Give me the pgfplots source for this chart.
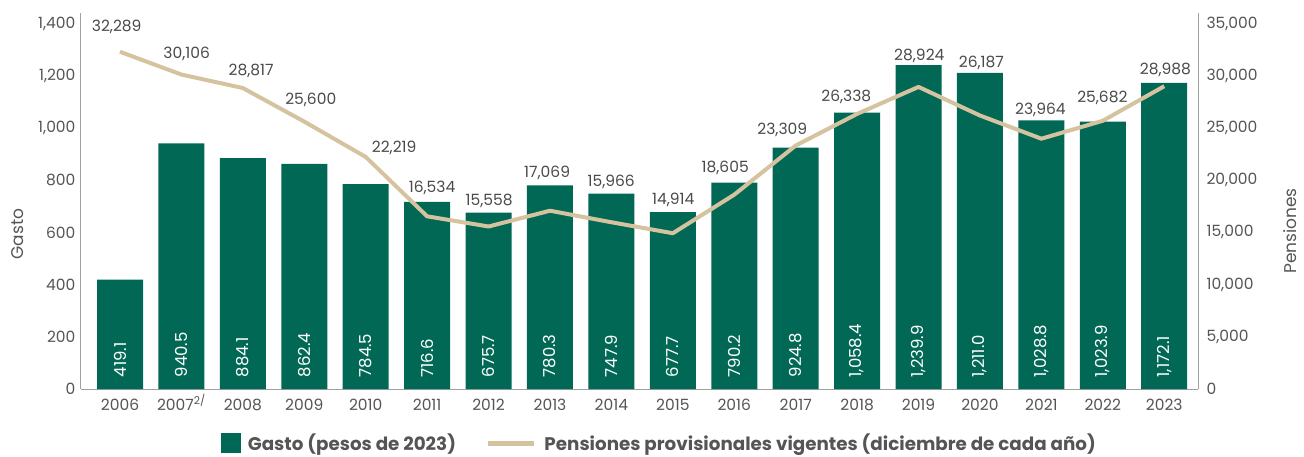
\documentclass[border=0pt]{standalone}
\usepackage{fontspec}
\setmainfont{Poppins}
\usepackage{pgfplots}
\pgfplotsset{compat=1.18}
\usepackage{pgfplotstable}
\definecolor{gastocol}{HTML}{006854}
\definecolor{pencol}{HTML}{D5C39F}
\definecolor{txt}{HTML}{555555}
\definecolor{txtd}{HTML}{4A4A4A}
\definecolor{axc}{HTML}{A0A0A0}

\pgfplotstableread{
x gasto lab
0 419.1 419.1
1 940.5 940.5
2 884.1 884.1
3 862.4 862.4
4 784.5 784.5
5 716.6 716.6
6 675.7 675.7
7 780.3 780.3
8 747.9 747.9
9 677.7 677.7
10 790.2 790.2
11 924.8 924.8
12 1058.4 1,058.4
13 1239.9 1,239.9
14 1211.0 1,211.0
15 1028.8 1,028.8
16 1023.9 1,023.9
17 1172.1 1,172.1
}\gastotab

\pgfplotstableread{
x pen lx ly lab
0 32289 -0.054 34714 32,289
1 30106 1.086 32132 30,106
2 28817 2.134 30439 28,817
3 25600 3.106 27637 25,600
4 22219 4.463 23047 22,219
5 16534 5.081 19222 16,534
6 15558 6.010 17978 15,558
7 17069 6.954 20685 17,069
8 15966 7.997 19824 15,966
9 14914 9.007 18074 14,914
10 18605 9.853 21134 18,605
11 23309 10.782 24768 23,309
12 26338 11.824 27924 26,338
13 28924 13.013 31940 28,924
14 26187 14.023 31271 26,187
15 23964 14.984 26681 23,964
16 25682 15.993 27828 25,682
17 28988 17.020 30506 28,988
}\pentab

\pgfplotsset{
  base/.style={
    scale only axis, width=1117pt, height=376pt,
    at={(81pt,67pt)}, anchor=south west,
    xmin=-0.635, xmax=17.55, ymin=0,
    major tick length=0pt,
    tick label style={font=\fontsize{15.5}{17}\selectfont, text=txt},
    /pgf/number format/assume math mode=true,
    /pgf/number format/1000 sep={,},
    scaled y ticks=false,
    axis line style={axc, line width=1pt},
    clip=false,
  }
}

\begin{document}
\begin{tikzpicture}
\useasboundingbox (0,0) rectangle (1304pt,456pt);
\begin{axis}[base,
  ymax=1440,
  axis x line*=bottom, axis y line*=left,
  ytick={0,200,...,1400},
  yticklabel style={xshift=-2pt},
  xtick={0,...,17},
  xticklabels={2006,2007\textsuperscript{2/},2008,2009,2010,2011,2012,2013,2014,2015,2016,2017,2018,2019,2020,2021,2022,2023},
  xticklabel style={anchor=base, yshift=-21pt},
  ylabel={Gasto},
  ylabel style={at={(axis description cs:-0.0564,0.412)}, anchor=center, font=\fontsize{17}{19}\selectfont, text=txt},
]
\addplot[ybar, bar width=46pt, fill=gastocol, draw=none] table[x=x, y=gasto] {\gastotab};
\addplot[draw=none, mark=none, forget plot, nodes near coords, point meta=explicit symbolic,
  nodes near coords style={rotate=90, anchor=west, inner sep=0pt, text=white, font=\fontsize{16.5}{18}\selectfont}]
  table[x=x, y expr=44, meta=lab] {\gastotab};
\end{axis}
\begin{axis}[base,
  ymax=36000,
  axis x line=none, axis y line*=right,
  xtick=\empty,
  ytick={0,5000,...,35000},
  yticklabel style={xshift=5pt},
  ylabel={Pensiones},
  ylabel style={at={(axis description cs:1.0825,0.42)}, anchor=center, font=\fontsize{17}{19}\selectfont, text=txt},
  legend style={at={(axis description cs:0.518,-0.144)}, anchor=center, draw=none, fill=none,
    font=\bfseries\fontsize{18.3}{20}\selectfont, text=txt, legend columns=2,
    /tikz/every even column/.append style={column sep=27pt}},
]
\addlegendimage{legend image code/.code={\fill[gastocol] (0pt,-9.5pt) rectangle (19pt,9.5pt); \path (24pt,0pt);}}
\addlegendentry{Gasto (pesos de 2023)}
\addplot[pencol, line width=4pt, line join=round, mark=none,
  legend image code/.code={\draw[pencol, line width=5pt] (0pt,0pt) -- (46pt,0pt); \path (53pt,0pt);}]
  table[x=x, y=pen] {\pentab};
\addlegendentry{Pensiones provisionales vigentes (diciembre de cada año)}
\addplot[draw=none, mark=none, forget plot, nodes near coords, point meta=explicit symbolic,
  nodes near coords style={anchor=center, inner sep=0pt, text=txtd, font=\fontsize{15.5}{17}\selectfont}]
  table[x=lx, y=ly, meta=lab] {\pentab};
\end{axis}
\end{tikzpicture}
\end{document}
